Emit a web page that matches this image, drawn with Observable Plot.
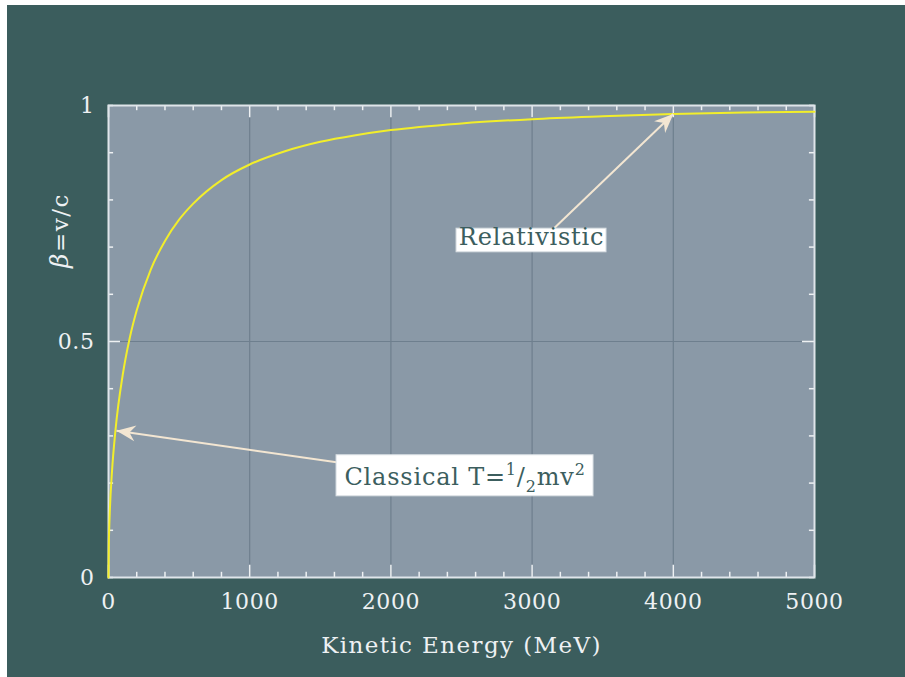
<!DOCTYPE html>
<html>
<head>
<meta charset="utf-8">
<script src="https://cdn.jsdelivr.net/npm/d3@7"></script>
<script src="https://cdn.jsdelivr.net/npm/@observablehq/plot@0.6"></script>
<style>
  html, body { margin: 0; padding: 0; background: #ffffff; }
  #chart { position: absolute; left: 7px; top: 5px; width: 898px; height: 672px; background: #3b5d5d; }
  #chart svg { display: block; }
</style>
</head>
<body>
<div id="chart"></div>
<script>
// Kinetic energy (MeV) and beta
const energy = [0, 2, 5, 10, 25, 50, 100, 150, 200, 300, 400, 500, 600, 800, 1000, 1250, 1500, 1750, 2000, 2500, 3000, 3500, 4000, 4500, 5000];
const beta   = [0, 0.065, 0.103, 0.145, 0.226, 0.314, 0.428, 0.507, 0.566, 0.653, 0.713, 0.758, 0.792, 0.842, 0.875, 0.903, 0.923, 0.937, 0.948, 0.962, 0.971, 0.977, 0.982, 0.985, 0.987];

const xTickLabels = [0, 1000, 2000, 3000, 4000, 5000];
const yTickLabels = [0, 0.5, 1];
const xGrid = [1000, 2000, 3000, 4000];
const yGrid = [0.5];
const xMinor = d3.range(0, 5001, 200);
const yMinor = d3.range(0, 1.0001, 0.1).map(v => +v.toFixed(1));

const annotations = [
  {label: "Relativistic", x: 2996, y: 0.7035, x1: 2465, x2: 3527, y1: 0.689, y2: 0.739},
  {label: "Classical T=1/2mv2", x: 2525, y: 0.196, x1: 1615, x2: 3435, y1: 0.172, y2: 0.259}
];
const arrows = [
  {x1: 3152, y1: 0.739, x2: 4000, y2: 0.982},
  {x1: 1615, y1: 0.244, x2: 57, y2: 0.311}
];
const xLabel = "Kinetic Energy (MeV)";
const yLabel = "β=v/c";

const curve = energy.map((e, i) => ({e, b: beta[i]}));

const white = "#eef1f3";
const fontFamily = "'DejaVu Serif', 'Liberation Serif', serif";

function headMarker(color) {
  const m = document.createElementNS("http://www.w3.org/2000/svg", "marker");
  m.setAttribute("viewBox", "-20 -10 22 20");
  m.setAttribute("markerWidth", "22");
  m.setAttribute("markerHeight", "20");
  m.setAttribute("markerUnits", "userSpaceOnUse");
  m.setAttribute("orient", "auto");
  m.setAttribute("refX", "0");
  m.setAttribute("refY", "0");
  const p = document.createElementNS("http://www.w3.org/2000/svg", "path");
  p.setAttribute("d", "M0,0L-19,-8L-13,0L-19,8Z");
  p.setAttribute("fill", color);
  p.setAttribute("stroke", "none");
  m.appendChild(p);
  return m;
}

const chart = Plot.plot({
  width: 898,
  height: 672,
  marginLeft: 101,
  marginRight: 91,
  marginTop: 100,
  marginBottom: 100,
  style: {background: "#3b5d5d", fontFamily, fontSize: "22px", color: white},
  x: {domain: [0, 5000]},
  y: {domain: [0, 1]},
  marks: [
    Plot.frame({fill: "#8a99a7", stroke: "none"}),
    Plot.ruleX(xGrid, {stroke: "#6e7f8e", strokeWidth: 1.2}),
    Plot.ruleY(yGrid, {stroke: "#6e7f8e", strokeWidth: 1.2}),
    // inward ticks, bottom & top
    Plot.ruleX(xMinor, {x: d => d, y1: 0, y2: d => d % 1000 === 0 ? 0.026 : 0.011, stroke: white, strokeWidth: 1.5}),
    Plot.ruleX(xMinor, {x: d => d, y1: 1, y2: d => d % 1000 === 0 ? 0.974 : 0.989, stroke: white, strokeWidth: 1.5}),
    // inward ticks, left & right
    Plot.ruleY(yMinor, {y: d => d, x1: 0, x2: d => d === 0.5 ? 85 : 36, stroke: white, strokeWidth: 1.5}),
    Plot.ruleY(yMinor, {y: d => d, x1: 5000, x2: d => d === 0.5 ? 4915 : 4964, stroke: white, strokeWidth: 1.5}),
    Plot.frame({stroke: "#dfe5ea", strokeWidth: 2}),
    Plot.axisX(xTickLabels, {tickSize: 0, tickPadding: 16, fill: white, fontSize: 22, label: null, tickFormat: d => String(d)}),
    Plot.axisY(yTickLabels, {tickSize: 0, tickPadding: 14, fill: white, fontSize: 22, label: null, tickFormat: d => String(d)}),
    Plot.line(curve, {x: "e", y: "b", stroke: "#f2ee2a", strokeWidth: 2, curve: "monotone-x"}),
    Plot.link(arrows, {x1: "x1", y1: "y1", x2: "x2", y2: "y2", stroke: "#f3e6d2", strokeWidth: 2, markerEnd: headMarker}),
    Plot.rect(annotations, {x1: "x1", x2: "x2", y1: "y1", y2: "y2", fill: "#ffffff", stroke: "#d9dfe3", strokeWidth: 1}),
    Plot.text(annotations, {x: "x", y: "y", text: "label", fill: "#3c5e5e", fontSize: 24, fontFamily, lineAnchor: "bottom"}),
    Plot.text([xLabel], {frameAnchor: "bottom", dy: 75, fill: white, fontSize: 23, fontFamily}),
    Plot.text([yLabel], {x: -340, y: 0.735, rotate: -90, fill: white, fontSize: 23, fontFamily})
  ]
});
document.getElementById("chart").appendChild(chart);

// post-processing of text: letter spacing, superscripts / subscripts, italic beta
const NS = "http://www.w3.org/2000/svg";
function richify(textEl, parts) {
  while (textEl.firstChild) textEl.removeChild(textEl.firstChild);
  for (const p of parts) {
    const t = document.createElementNS(NS, "tspan");
    t.textContent = p.t;
    if (p.size) t.setAttribute("font-size", p.size);
    if (p.dy) t.setAttribute("dy", p.dy);
    if (p.italic) t.setAttribute("font-style", "italic");
    textEl.appendChild(t);
  }
}
chart.querySelectorAll("text").forEach(el => {
  const s = el.textContent;
  if (s === xLabel) {
    el.setAttribute("letter-spacing", "1.4");
  } else if (s === yLabel) {
    el.setAttribute("letter-spacing", "1.5");
    richify(el, [{t: "β", italic: true, size: 25}, {t: "=v/c"}]);
  } else if (s === "Relativistic") {
    el.setAttribute("letter-spacing", "0.8");
  } else if (s.startsWith("Classical")) {
    el.setAttribute("letter-spacing", "0.8");
    richify(el, [
      {t: "Classical T="},
      {t: "1", size: 16, dy: -10},
      {t: "/", dy: 10},
      {t: "2", size: 16, dy: 7},
      {t: "mv", dy: -7},
      {t: "2", size: 16, dy: -10}
    ]);
  } else if (/^[0-9.]+$/.test(s)) {
    el.setAttribute("letter-spacing", "0.6");
  }
});
</script>
</body>
</html>
